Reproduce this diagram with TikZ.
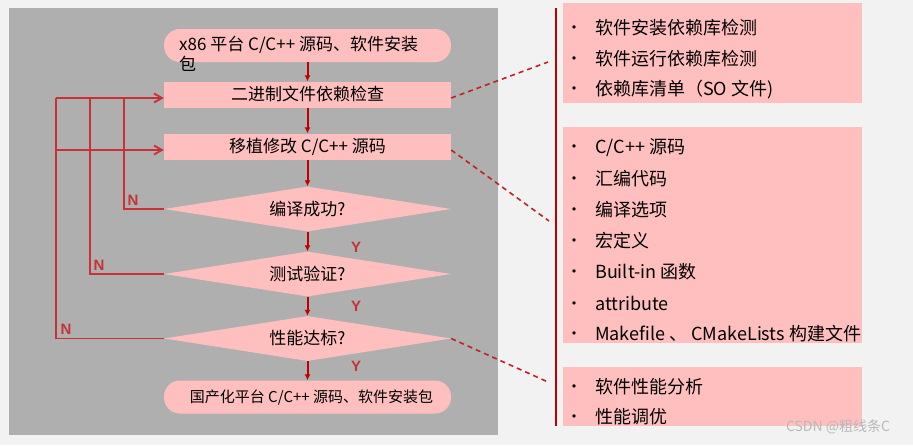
\documentclass[tikz,border=0pt]{standalone}
\usepackage{fontspec}
\setmainfont{Noto Sans CJK SC}
\newfontfamily\yesnofont{Liberation Sans}
\usetikzlibrary{arrows.meta,positioning,shapes.geometric}
\definecolor{PanelGray}{RGB}{175,175,175}
\definecolor{FlowPink}{RGB}{255,191,191}
\definecolor{DarkRed}{RGB}{192,0,0}
\definecolor{LoopRed}{RGB}{200,50,54}
\definecolor{PageGray}{RGB}{242,242,242}

\tikzset{
  flowbox/.style={rectangle, fill=FlowPink, minimum width=287pt, minimum height=26pt,
    inner sep=0pt, font=\fontsize{17}{20}\selectfont},
  terminal/.style={flowbox, rounded corners=16pt, minimum height=33pt},
  decision/.style={diamond, fill=FlowPink, aspect=6.5, minimum width=287pt,
    minimum height=45pt, inner sep=0pt, font=\fontsize{17}{20}\selectfont},
  flowarrow/.style={draw=DarkRed, line width=2pt, -{Latex[length=6pt,width=6pt]}},
  loopline/.style={draw=LoopRed, line width=1.8pt},
  looparrow/.style={loopline, -{Straight Barb[length=8pt,width=9pt]}},
  yesno/.style={text=LoopRed, inner sep=0pt,
    font=\yesnofont\fontsize{15}{15}\selectfont\bfseries},
  listbox/.style={fill=FlowPink, minimum width=299pt, inner sep=0pt},
  listitem/.style={anchor=west, inner sep=0pt, font=\fontsize{18}{20}\selectfont},
  hintline/.style={draw=DarkRed!80!PanelGray, line width=1.6pt, dash pattern=on 5pt off 4pt}
}
\newcommand{\listdot}{\makebox[29pt][l]{\fontsize{16}{16}\selectfont\raisebox{1pt}{•}}}

\begin{document}
\begin{tikzpicture}[x=1pt, y=-1pt]
  \fill[PageGray] (0,0) rectangle (913,445);
  \useasboundingbox (0,0) rectangle (913,445);
  \fill[PanelGray] (9,8) rectangle (498,435);

  % flow chart
  \node[terminal] (start) at (307.5,45.5) {};
  \node[anchor=north west, align=left, inner sep=0pt,
    font=\fontsize{17}{20}\selectfont] (starttext) at (179,36)
    {x86 平台 C/C++ 源码、软件安装\\包};
  \node[flowbox] (bin) at (307.5,94.5) {二进制文件依赖检查};
  \node[flowbox] (port) at (307.5,146.5) {移植修改 C/C++ 源码};
  \node[decision] (build) at (307.5,209) {编译成功?};
  \node[decision] (test) at (307.5,274) {测试验证?};
  \node[decision] (perfok) at (307.5,338.5) {性能达标?};
  \node[terminal, font=\fontsize{15}{18}\selectfont] (final) at (307.5,397)
    {\hspace{8pt}国产化平台 C/C++ 源码、软件安装包};

  \draw[flowarrow] (start) -- (bin);
  \draw[flowarrow] (bin) -- (port);
  \draw[flowarrow] (port) -- (build);
  \draw[flowarrow] (build) -- (test);
  \draw[flowarrow] (test) -- (perfok);
  \draw[flowarrow] (perfok) -- (final);

  % loops back
  \coordinate (binin) at ([yshift=-3.5pt]bin.west);
  \coordinate (portin) at ([yshift=-3.5pt]port.west);
  \draw[loopline] (build.west) -| (124,98);
  \draw[loopline] (test.west) -| (90,98);
  \draw[loopline] (perfok.west) -| (56,98) coordinate (looptop);
  \draw[looparrow] (looptop) -- (binin);
  \draw[looparrow] (looptop |- portin) -- (portin);

  \node[yesno] (no1) at (133,200) {N};
  \node[yesno] (no2) at (99,265) {N};
  \node[yesno] (no3) at (66,329) {N};
  \node[yesno] (yes1) at (356,247) {Y};
  \node[yesno] (yes2) at (356,306) {Y};
  \node[yesno] (yes3) at (356,366) {Y};

  % detail lists
  \draw[DarkRed, line width=2.8pt] (556,8) -- (556,426);
  \node[listbox, minimum height=100pt] (deps) at (712.5,53) {};
  \node[listbox, minimum height=216pt] (srcs) at (712.5,235) {};
  \node[listbox, minimum height=59pt] (tune) at (712.5,396.5) {};

  \node[listitem] (deps1) at (566,28) {\listdot 软件安装依赖库检测};
  \node[listitem] (deps2) at (566,59) {\listdot 软件运行依赖库检测};
  \node[listitem] (deps3) at (566,90) {\listdot 依赖库清单（SO 文件)};

  \node[listitem] (srcs1) at (566,148) {\listdot C/C++ 源码};
  \node[listitem] (srcs2) at (566,179) {\listdot 汇编代码};
  \node[listitem] (srcs3) at (566,210) {\listdot 编译选项};
  \node[listitem] (srcs4) at (566,241) {\listdot 宏定义};
  \node[listitem] (srcs5) at (566,272) {\listdot Built-in 函数};
  \node[listitem] (srcs6) at (566,303) {\listdot attribute};
  \node[listitem] (srcs7) at (566,334) {\listdot Makefile 、 CMakeLists 构建文件};

  \node[listitem] (tune1) at (566,387) {\listdot 软件性能分析};
  \node[listitem] (tune2) at (566,417) {\listdot 性能调优};

  % dashed pointers
  \coordinate (depsin) at (548,62);
  \coordinate (srcsin) at (549,221);
  \coordinate (tunein) at (548,382);
  \draw[hintline] (binin -| bin.east) -- (depsin);
  \draw[hintline] (portin -| port.east) -- (srcsin);
  \draw[hintline] (perfok.east) -- (tunein);

  \node[text=gray!55, font=\fontsize{14}{14}\selectfont] (mark) at (838,427) {CSDN @粗线条C};
\end{tikzpicture}
\end{document}
